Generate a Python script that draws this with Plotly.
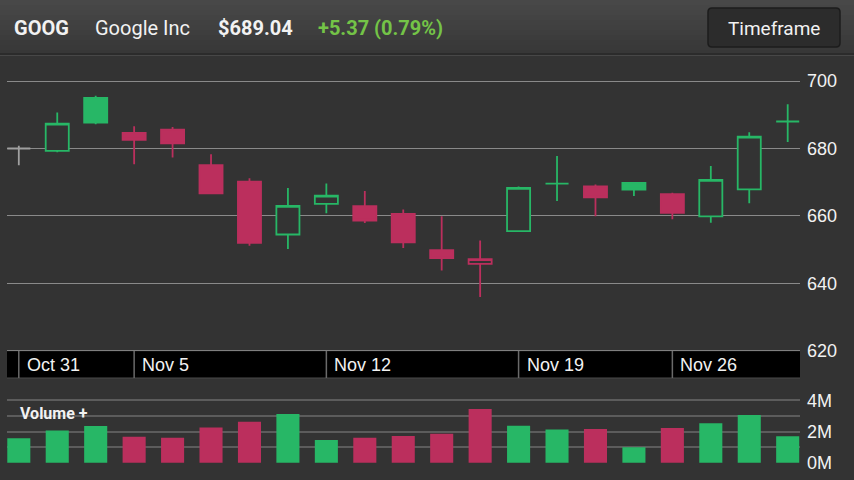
import plotly.graph_objects as go

W, H = 854, 480

# ---------------- data ----------------
dates = ["Oct 31", "Nov 1", "Nov 2", "Nov 5", "Nov 6", "Nov 7", "Nov 8", "Nov 9",
         "Nov 12", "Nov 13", "Nov 14", "Nov 15", "Nov 16", "Nov 19", "Nov 20",
         "Nov 21", "Nov 23", "Nov 26", "Nov 27", "Nov 28", "Nov 29"]
open_ = [680.0, 679.3, 695.0, 684.6, 685.6, 675.1, 670.2, 654.5, 663.6, 662.9, 660.6,
         649.9, 645.8, 655.5, 669.6, 668.8, 669.8, 666.5, 659.9, 667.9, 688.0]
high = [680.8, 690.7, 695.6, 686.6, 686.4, 678.3, 671.2, 668.3, 669.6, 667.4, 661.9,
        659.9, 652.7, 668.7, 677.8, 669.3, 670.0, 666.9, 674.8, 684.8, 693.1]
low = [675.0, 678.9, 687.2, 675.3, 677.3, 666.6, 651.2, 650.2, 660.8, 657.9, 650.5,
       643.8, 636.0, 655.4, 664.4, 659.9, 665.9, 659.0, 658.0, 663.8, 681.9]
close = [680.0, 687.4, 687.7, 682.6, 681.5, 666.7, 652.0, 663.0, 666.0, 658.6, 652.2,
         647.5, 647.2, 668.3, 669.6, 665.5, 667.8, 660.9, 670.7, 683.5, 688.0]
volume_m = [1.56, 2.07, 2.35, 1.67, 1.60, 2.25, 2.63, 3.12, 1.46, 1.60, 1.71,
            1.86, 3.44, 2.37, 2.12, 2.16, 0.99, 2.22, 2.53, 3.06, 1.69]

price_ticks = [620, 640, 660, 680, 700]
volume_tickvals = [0, 2, 4]
volume_ticktext = ["0M", "2M", "4M"]
band_labels = ["Oct 31", "Nov 5", "Nov 12", "Nov 19", "Nov 26"]

symbol = "GOOG"
company = "Google Inc"
last_price = "$689.04"
change_text = "+5.37 (0.79%)"
button_text = "Timeframe"
volume_title = "Volume +"

# ---------------- style ----------------
BG = "#333333"
GREEN = "#27b766"
RED = "#bb2f5d"
GRAY = "#a0a0a0"
TXT = "#f2f2f2"
SANS = "Liberation Sans, Arial, sans-serif"
ROBO = "Roboto, Noto Sans, sans-serif"


def py(p):
    return 1 - p / H


def px(p):
    return p / W


# colour class of each candle: vs previous close
cls = []
for i in range(len(close)):
    if i == 0:
        cls.append("flat")
    elif close[i] >= close[i - 1]:
        cls.append("up")
    else:
        cls.append("down")

fig = go.Figure()
for name, col in [("flat", GRAY), ("up", GREEN), ("down", RED)]:
    idx = [i for i, c in enumerate(cls) if c == name]
    fig.add_trace(go.Candlestick(
        x=[dates[i] for i in idx],
        open=[open_[i] for i in idx],
        high=[high[i] for i in idx],
        low=[low[i] for i in idx],
        close=[close[i] for i in idx],
        increasing=dict(line=dict(color=col, width=1.8), fillcolor=BG),
        decreasing=dict(line=dict(color=col, width=1.8), fillcolor=col),
        whiskerwidth=0,
        xaxis="x", yaxis="y", showlegend=False, hoverinfo="skip",
    ))

vol_colors = [RED if c == "down" else GREEN for c in cls]
fig.add_trace(go.Bar(
    x=dates, y=volume_m, width=0.6,
    marker=dict(color=vol_colors, line=dict(width=0)),
    xaxis="x2", yaxis="y2", showlegend=False, hoverinfo="skip",
))

xdom = [px(7), px(800)]
xcommon = dict(domain=xdom, type="category", categoryorder="array", categoryarray=dates,
               range=[-0.307, 20.32], showticklabels=False, showgrid=False,
               zeroline=False, showline=False, ticks="", fixedrange=True, automargin=False)

shapes = []
# header gradient
top_c = (0x48, 0x48, 0x48)
bot_c = (0x37, 0x37, 0x37)
n = 11
for k in range(n):
    t = k / (n - 1)
    c = tuple(int(round(top_c[j] + (bot_c[j] - top_c[j]) * t)) for j in range(3))
    shapes.append(dict(type="rect", xref="paper", yref="paper", x0=0, x1=1,
                       y0=py(5 * (k + 1)), y1=py(5 * k), fillcolor="rgb(%d,%d,%d)" % c,
                       line=dict(width=0), layer="below"))
shapes.append(dict(type="line", xref="paper", yref="paper", x0=0, x1=1, y0=py(54), y1=py(54),
                   line=dict(color="#292929", width=1.5), layer="below"))
shapes.append(dict(type="line", xref="paper", yref="paper", x0=0, x1=1, y0=py(55.5), y1=py(55.5),
                   line=dict(color="#474747", width=1), layer="below"))

# rounded button
bx0, bx1, by0, by1, r = 708, 840, 8, 47, 4
path = ("M {a},{b} L {c},{b} Q {d},{b} {d},{e} L {d},{f} Q {d},{g} {c},{g} "
        "L {a},{g} Q {h},{g} {h},{f} L {h},{e} Q {h},{b} {a},{b} Z").format(
    a=px(bx0 + r), b=py(by0), c=px(bx1 - r), d=px(bx1), e=py(by0 + r),
    f=py(by1 - r), g=py(by1), h=px(bx0))
shapes.append(dict(type="path", xref="paper", yref="paper", path=path,
                   fillcolor="#2c2c2c", line=dict(color="#1c1c1c", width=1.5)))

# date band
shapes.append(dict(type="rect", xref="paper", yref="paper", x0=px(7), x1=px(800),
                   y0=py(378), y1=py(350.6), fillcolor="#000000",
                   line=dict(width=0), layer="below"))
shapes.append(dict(type="line", xref="paper", yref="paper", x0=px(7), x1=px(800),
                   y0=py(350.6), y1=py(350.6), line=dict(color="#8a8a8a", width=1)))
shapes.append(dict(type="line", xref="paper", yref="paper", x0=px(7), x1=px(800),
                   y0=py(378), y1=py(378), line=dict(color="#4a4a4a", width=1)))
for d in band_labels:
    shapes.append(dict(type="line", xref="x", yref="paper", x0=d, x1=d,
                       y0=py(378), y1=py(351), line=dict(color="#6a6a6a", width=1.5)))

annotations = []
for d in band_labels:
    annotations.append(dict(xref="x", yref="paper", x=d, y=py(364.5), xanchor="left",
                            yanchor="middle", xshift=6, text=d, showarrow=False,
                            font=dict(family=SANS, size=18, color=TXT)))

hdr_y = py(28)
annotations += [
    dict(xref="paper", yref="paper", x=px(12), y=hdr_y, xanchor="left", yanchor="middle",
         text="<b>%s</b>" % symbol, showarrow=False, font=dict(family=ROBO, size=20, color=TXT)),
    dict(xref="paper", yref="paper", x=px(93), y=hdr_y, xanchor="left", yanchor="middle",
         text=company, showarrow=False, font=dict(family=ROBO, size=20, color=TXT)),
    dict(xref="paper", yref="paper", x=px(216), y=hdr_y, xanchor="left", yanchor="middle",
         text="<b>%s</b>" % last_price, showarrow=False, font=dict(family=ROBO, size=20, color=TXT)),
    dict(xref="paper", yref="paper", x=px(316), y=hdr_y, xanchor="left", yanchor="middle",
         text="<b>%s</b>" % change_text, showarrow=False,
         font=dict(family=ROBO, size=20, color="#74c447")),
    dict(xref="paper", yref="paper", x=px(774), y=py(28), xanchor="center", yanchor="middle",
         text=button_text, showarrow=False, font=dict(family=ROBO, size=19, color=TXT)),
    dict(xref="paper", yref="paper", x=px(18), y=py(413), xanchor="left", yanchor="middle",
         text="<b>%s</b>" % volume_title, showarrow=False,
         font=dict(family=ROBO, size=16, color=TXT)),
]

fig.update_layout(
    width=W, height=H, autosize=False,
    margin=dict(l=0, r=0, t=0, b=0, pad=0, autoexpand=False),
    paper_bgcolor=BG, plot_bgcolor="rgba(0,0,0,0)",
    boxgap=0.4, boxgroupgap=0,
    bargap=0.4,
    showlegend=False,
    xaxis=dict(anchor="y", rangeslider=dict(visible=False), **xcommon),
    xaxis2=dict(anchor="y2", **xcommon),
    yaxis=dict(anchor="x", domain=[py(350.9), py(56)], range=[620, 707.42], side="right",
               tickmode="array", tickvals=price_ticks, showgrid=True, gridcolor="#8a8a8a",
               gridwidth=1, zeroline=False, showline=False, ticks="", automargin=False,
               ticklabelstandoff=6,
               tickfont=dict(family=SANS, size=18, color=TXT), fixedrange=True),
    yaxis2=dict(anchor="x2", domain=[py(463.2), py(398.7)], range=[-0.03, 4.1], side="right",
                tickmode="array", tickvals=volume_tickvals, ticktext=volume_ticktext,
                showgrid=True, gridcolor="#5c5c5c", gridwidth=2, zeroline=False,
                showline=False, ticks="", ticklabelstandoff=6, automargin=False,
                minor=dict(dtick=1, tick0=0, showgrid=True, gridcolor="#5c5c5c", gridwidth=2),
                tickfont=dict(family=SANS, size=18, color=TXT), fixedrange=True),
    shapes=shapes,
    annotations=annotations,
)

fig.write_html("out.html", config={"displayModeBar": False, "staticPlot": True},
               post_script="document.body.style.margin='0';document.body.style.overflow='hidden';")
